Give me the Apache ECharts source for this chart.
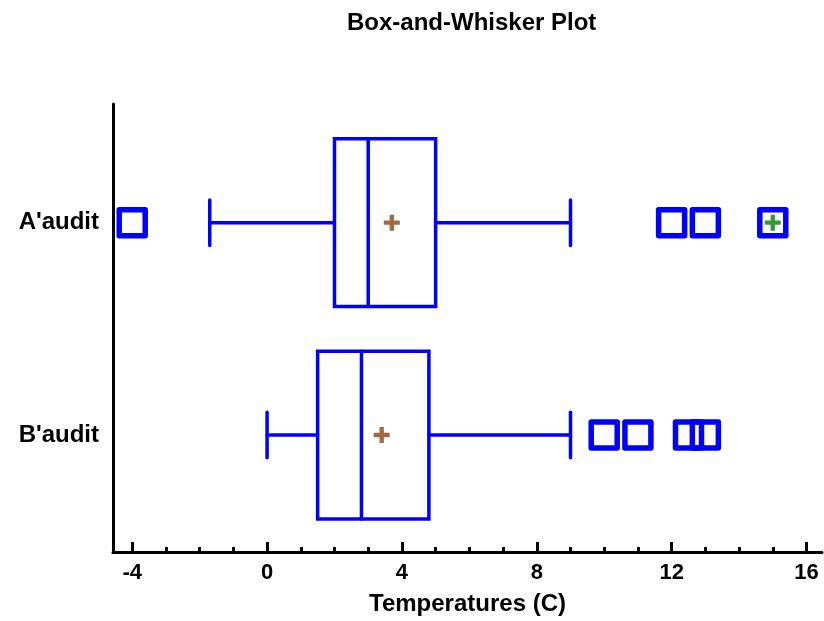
<!DOCTYPE html>
<html><head><meta charset="utf-8">
<script src="https://cdn.jsdelivr.net/npm/echarts@6/dist/echarts.min.js"></script>
<style>html,body{margin:0;padding:0;background:#fff}#c{width:824px;height:621px}</style>
</head><body><div id="c"></div>
<script>
// ---- data ----
const categories = ["A'audit", "B'audit"];
const whiskerLow = [-1.7, 0.0];
const q1 = [2.0, 1.5];
const median = [3.0, 2.8];
const q3 = [5.0, 4.8];
const whiskerHigh = [9.0, 9.0];
const means = [3.7, 3.4];
const outliersA = [-4.0, 12.0, 13.0, 15.0];
const outliersB = [10.0, 11.0, 12.5, 13.0];
const farOutliersA = [15.0];
const xTickLabels = [-4, 0, 4, 8, 12, 16];
const xMinorTicks = [-4, -3, -2, -1, 0, 1, 2, 3, 4, 5, 6, 7, 8, 9, 10, 11, 12, 13, 14, 15, 16];

// ---- build ----
const FONT = "'Liberation Sans', Arial, sans-serif";
const BLUE = '#0000ff';
const yPos = i => categories.length - 1 - i;

const boxData = categories.map((c, i) => [yPos(i), whiskerLow[i], q1[i], median[i], q3[i], whiskerHigh[i]]);
const meanData = categories.map((c, i) => [means[i], yPos(i)]);
const outlierData = outliersA.map(v => [v, yPos(0)]).concat(outliersB.map(v => [v, yPos(1)]));
const farData = farOutliersA.map(v => [v, yPos(0)]);

const PLUS = 'path://M4,0H7V4H11V7H7V11H4V7H0V4H4Z';

function renderBox(params, api) {
  const y = api.value(0);
  const lo = api.coord([api.value(1), y]);
  const b1 = api.coord([api.value(2), y]);
  const md = api.coord([api.value(3), y]);
  const b3 = api.coord([api.value(4), y]);
  const hi = api.coord([api.value(5), y]);
  const unit = api.size([0, 1])[1];
  const bh = unit * 0.395;
  const ch = unit * 0.107;
  const st = { stroke: BLUE, lineWidth: 3.5, fill: null, lineCap: 'round' };
  const cy = lo[1];
  return {
    type: 'group',
    children: [
      { type: 'line', shape: { x1: lo[0], y1: cy, x2: b1[0], y2: cy }, style: st },
      { type: 'line', shape: { x1: b3[0], y1: cy, x2: hi[0], y2: cy }, style: st },
      { type: 'line', shape: { x1: lo[0], y1: cy - ch, x2: lo[0], y2: cy + ch }, style: st },
      { type: 'line', shape: { x1: hi[0], y1: cy - ch, x2: hi[0], y2: cy + ch }, style: st },
      { type: 'rect', shape: { x: b1[0], y: cy - bh, width: b3[0] - b1[0], height: 2 * bh }, style: st },
      { type: 'line', shape: { x1: md[0], y1: cy - bh, x2: md[0], y2: cy + bh }, style: st }
    ]
  };
}

const chart = echarts.init(document.getElementById('c'), null, { renderer: 'canvas' });
chart.setOption({
  animation: false,
  backgroundColor: '#fff',
  title: {
    text: 'Box-and-Whisker Plot',
    left: 342, top: 6,
    textStyle: { fontFamily: FONT, fontSize: 24, fontWeight: 'bold', color: '#000' }
  },
  grid: { left: 113, right: 2, top: 104, bottom: 69, containLabel: false },
  xAxis: [{
    type: 'value', min: -4.57, max: 16.46,
    axisLine: { show: true, onZero: false, lineStyle: { color: '#000', width: 3 } },
    axisTick: { show: true, inside: true, length: 5, customValues: xMinorTicks, lineStyle: { color: '#000', width: 3 } },
    axisLabel: { customValues: xTickLabels, fontFamily: FONT, fontSize: 22, fontWeight: 'bold', color: '#000', margin: 10 },
    splitLine: { show: false },
    name: 'Temperatures (C)', nameLocation: 'middle', nameGap: 40,
    nameTextStyle: { fontFamily: FONT, fontSize: 24, fontWeight: 'bold', color: '#000' }
  }, {
    type: 'value', min: -4.57, max: 16.46, position: 'bottom',
    axisLine: { show: false, onZero: false },
    axisTick: { show: true, inside: true, length: 10, customValues: xTickLabels, lineStyle: { color: '#000', width: 3 } },
    axisLabel: { show: false },
    splitLine: { show: false }
  }],
  yAxis: {
    type: 'value', min: -0.551, max: 1.559,
    axisLine: { show: true, onZero: false, lineStyle: { color: '#000', width: 3 } },
    axisTick: { show: false },
    axisLabel: {
      customValues: [0, 1],
      formatter: v => categories[categories.length - 1 - Math.round(v)],
      fontFamily: FONT, fontSize: 24, fontWeight: 'bold', color: '#000', margin: 14
    },
    splitLine: { show: false }
  },
  series: [
    {
      type: 'custom', xAxisIndex: 0, yAxisIndex: 0, silent: true,
      renderItem: renderBox,
      encode: { x: [1, 2, 3, 4, 5], y: 0 },
      data: boxData
    },
    {
      type: 'scatter', xAxisIndex: 0, silent: true,
      symbol: PLUS, symbolSize: 16,
      itemStyle: { color: '#8b4513' },
      data: meanData
    },
    {
      type: 'scatter', xAxisIndex: 0, silent: true,
      symbol: 'rect', symbolSize: 26,
      itemStyle: { color: 'rgba(0,0,0,0)', borderColor: BLUE, borderWidth: 5.5, borderJoin: 'round', opacity: 1 },
      data: outlierData
    },
    {
      type: 'scatter', xAxisIndex: 0, silent: true,
      symbol: PLUS, symbolSize: 16,
      itemStyle: { color: '#008000' },
      data: farData
    }
  ]
});
</script>
</body></html>
